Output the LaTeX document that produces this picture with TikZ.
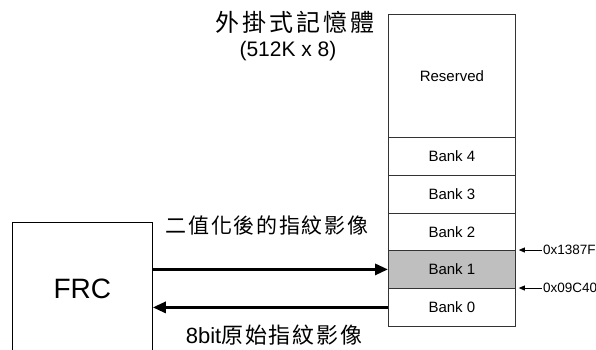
\documentclass[tikz,border=0pt]{standalone}
\usepackage{fontspec}
\setmainfont{Liberation Sans}
\newfontfamily\cjkwide[LetterSpace=12]{Noto Sans CJK TC}
\newfontfamily\cjkmid[LetterSpace=8]{Noto Sans CJK TC}
\usetikzlibrary{arrows.meta}
\begin{document}
\begin{tikzpicture}[x=1pt,y=-1pt,
  cell/.style={draw=black!80, line width=0.8pt, anchor=north west, minimum width=127pt, inner sep=0pt, font=\fontsize{15}{17}\selectfont},
  bigarrow/.style={line width=3pt, -{Triangle[length=13pt,width=11pt]}},
  addr/.style={line width=0.7pt, {Triangle[length=6pt,width=5pt]}-},
  addrlbl/.style={anchor=west, inner sep=1pt, font=\fontsize{13.5}{15}\selectfont}]
\useasboundingbox (0,0) rectangle (596,349);
% memory cells
\node[cell, minimum height=123pt] (res) at (388,14) {Reserved};
\node[cell, minimum height=38pt] (b4) at (388,137) {Bank 4};
\node[cell, minimum height=38pt] (b3) at (388,175) {Bank 3};
\node[cell, minimum height=37pt] (b2) at (388,213) {Bank 2};
\node[cell, minimum height=38pt, fill=black!25] (b1) at (388,250) {Bank 1};
\node[cell, minimum height=38pt] (b0) at (388,288) {Bank 0};
% FRC
\node[draw, line width=0.8pt, anchor=north west, minimum width=140pt, minimum height=132pt, inner sep=0pt, font=\fontsize{28}{30}\selectfont] (frc) at (12,222) {FRC};
% arrows
\draw[bigarrow] (b1.west -| frc.east) -- (b1.west);
\draw[bigarrow] (b0.west) -- (b0.west -| frc.east);
% address markers
\coordinate (a1) at (542,250);
\coordinate (a0) at (542,288);
\draw[addr, shorten <=3pt] (b1.north east) -- (a1);
\draw[addr, shorten <=3pt] (b0.north east) -- (a0);
\node[addrlbl] (l1) at (a1) {0x1387F};
\node[addrlbl] (l0) at (a0) {0x09C40};
% labels
\node[font=\fontsize{21}{23}\selectfont\cjkmid] (t1) at (267,225) {二值化後的指紋影像};
\node[font=\fontsize{22}{24}\selectfont] (t2) at (274,335) {8bit{\cjkmid 原始指紋影像}};
\node[font=\fontsize{24}{26}\selectfont\cjkwide] (h1) at (295,22) {外掛式記憶體};
\node[font=\fontsize{21}{23}\selectfont] (h2) at (288,51) {(512K x 8)};
\end{tikzpicture}
\end{document}
